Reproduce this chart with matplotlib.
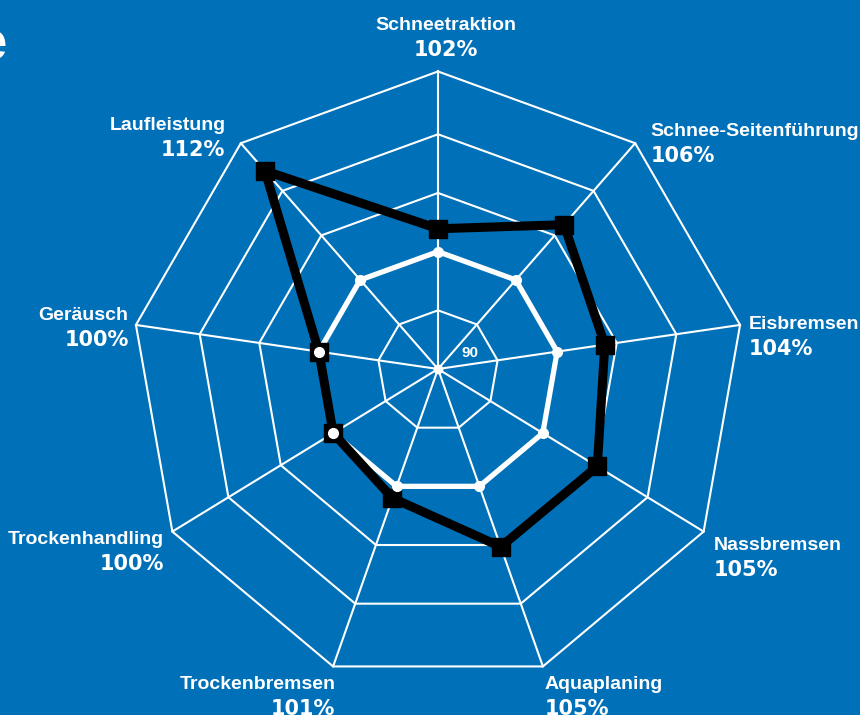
import numpy as np
import matplotlib.pyplot as plt

categories = ['Schneetraktion', 'Schnee-Seitenführung', 'Eisbremsen', 'Nassbremsen',
              'Aquaplaning', 'Trockenbremsen', 'Trockenhandling', 'Geräusch', 'Laufleistung']
percent_labels = ['102%', '106%', '104%', '105%', '105%', '101%', '100%', '100%', '112%']
# Lage der Punkte auf der Skala des Diagramms (Mitte = 80)
tyre_scores = [103.9, 112.4, 108.0, 110.4, 110.3, 102.0, 100, 100, 124.5]
reference_scores = [100, 100, 100, 100, 100, 100, 100, 100, 100]
ring_levels = [90, 100, 110, 120, 130.7]
ring_label = '90'

BG = '#0070b8'
CENTER = 80
PX = 6.05      # Pixel pro Skaleneinheit
SAG = 0.03     # die Achsen sind im Original leicht nach unten gekippt


def to_xy(values):
    n = len(values)
    ang = np.pi / 2 - 2 * np.pi * np.arange(n) / n
    r = np.asarray(values, dtype=float) - CENTER
    return r * np.cos(ang), r * (np.sin(ang) - SAG)


def closed(a):
    return np.append(a, a[0])


fig = plt.figure(figsize=(8.6, 7.15), dpi=100, facecolor=BG)
ax = fig.add_axes([0, 0, 1, 1])
ax.set_facecolor(BG)
ax.set_xlim(-438 / PX, 422 / PX)
ax.set_ylim(-346 / PX, 369 / PX)
ax.axis('off')

n = len(categories)

# Gitter
for lvl in ring_levels:
    gx, gy = to_xy([lvl] * n)
    ax.plot(closed(gx), closed(gy), color='white', lw=1.5, zorder=1)
ox, oy = to_xy([ring_levels[-1]] * n)
for x, y in zip(ox, oy):
    ax.plot([0, x], [0, y], color='white', lw=1.5, zorder=1)
ax.plot([0], [0], 'o', color='white', ms=6, zorder=1)
ax.text(32 / PX, 16 / PX, ring_label, color='white', fontsize=11, fontweight='bold',
        family='Liberation Sans', ha='center', va='center', zorder=2)

# Referenz (100 %)
wx, wy = to_xy(reference_scores)
ax.plot(closed(wx), closed(wy), color='white', lw=3.8, zorder=2, solid_joinstyle='round')

# Reifen
bx, by = to_xy(tyre_scores)
ax.plot(closed(bx), closed(by), color='black', lw=6.5, zorder=3)
ax.plot(bx, by, 's', color='black', ms=13, zorder=4)

# weisse Punkte der Referenz oben drauf
ax.plot(wx, wy, 'o', color='white', ms=7, zorder=5)

# Beschriftungen (Versatz in Pixeln zur äusseren Ecke)
x_off = [8, 15.3, 8.2, 9.7, 1.8, 2.2, -8.7, -7.2, -15.3]
y_off = [-41.7, -7.7, 4.3, 18, 22.7, 22.7, 12, -4.7, -13.7]
aligns = ['center', 'left', 'left', 'left', 'left', 'right', 'right', 'right', 'right']
for i in range(n):
    ax.annotate(categories[i], (ox[i], oy[i]), xytext=(x_off[i], -y_off[i]),
                textcoords='offset pixels', ha=aligns[i], va='baseline',
                color='white', fontsize=14, fontweight='bold', family='Liberation Sans')
    ax.annotate(percent_labels[i], (ox[i], oy[i]), xytext=(x_off[i], -y_off[i] - 26),
                textcoords='offset pixels', ha=aligns[i], va='baseline',
                color='white', fontsize=15, fontweight='bold', family='DejaVu Sans')

# abgeschnittener Titel links oben
fig.text(7 / 860, 1 - 60 / 715, 'e', color='white', fontsize=38, fontweight='bold',
         family='Liberation Sans', ha='right', va='baseline')

fig.savefig('out.png', dpi=100, facecolor=BG)
